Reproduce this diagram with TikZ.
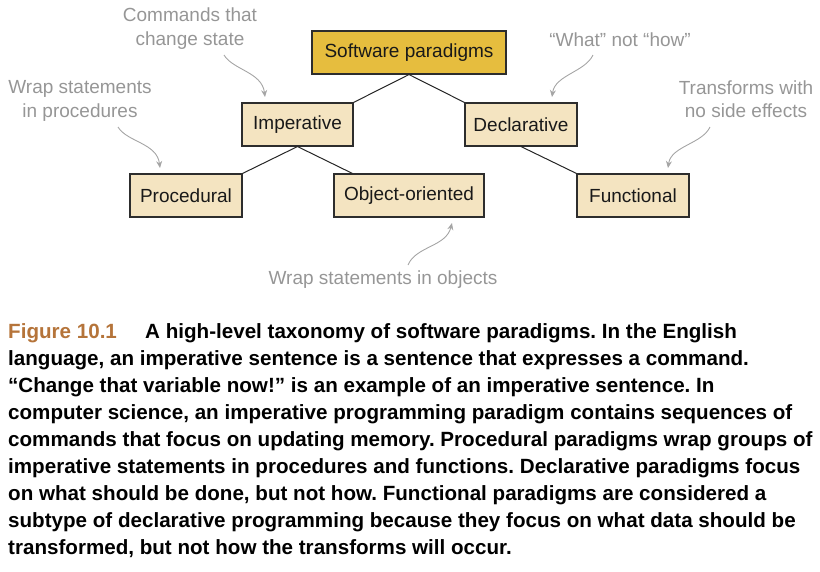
\documentclass[tikz,border=0pt]{standalone}
\usepackage{fontspec}
\setmainfont{Liberation Sans}
\usetikzlibrary{arrows.meta,calc}
\definecolor{boxfill}{RGB}{244,228,193}
\definecolor{goldfill}{RGB}{230,189,62}
\definecolor{boxline}{RGB}{45,45,45}
\definecolor{annotext}{RGB}{150,150,150}
\definecolor{annoline}{RGB}{165,165,165}
\definecolor{figc}{RGB}{181,116,58}
\frenchspacing
\tikzset{
  paradigm/.style={draw=boxline, line width=1.1pt, fill=boxfill, minimum height=43pt,
    inner sep=0pt, font=\fontsize{19}{23}\selectfont, text=black!90},
  anno/.style={anchor=base, inner sep=0pt, font=\fontsize{19}{24}\selectfont, text=annotext},
  annoarrow/.style={draw=annoline, line width=0.9pt, -{Stealth[length=7pt,width=6pt]}},
  link/.style={draw=black!85, line width=1pt},
  capline/.style={anchor=base west, inner sep=0pt, font=\fontsize{20.6}{27}\selectfont\bfseries}
}
\begin{document}
\begin{tikzpicture}[x=1pt,y=-1pt]
\useasboundingbox (0,0) rectangle (820,571);
% boxes
\node[paradigm, fill=goldfill, minimum width=194pt] (sw) at (409,52.5) {Software paradigms};
\node[paradigm, minimum width=111pt] (imp) at (297.5,124.5) {Imperative};
\node[paradigm, minimum width=112pt] (dec) at (521,124.5) {Declarative};
\node[paradigm, minimum width=112pt] (proc) at (186,195.5) {Procedural};
\node[paradigm, minimum width=150pt] (oo) at (409,195.5) {Object-oriented};
\node[paradigm, minimum width=112pt] (fun) at (633,195.5) {Functional};
% links
\draw[link] (sw.south) -- (imp.north east);
\draw[link] (sw.south) -- (dec.north west);
\draw[link] (imp.south) -- (proc.north east);
\draw[link] (imp.south) -- ([xshift=19pt]oo.north west);
\draw[link] (dec.south) -- (fun.north west);
% annotations
\node[anno] (cmd1) at (190,21) {Commands that};
\node[anno] (cmd2) at (190,45) {change state};
\node[anno] (wp1) at (80,93) {Wrap statements};
\node[anno] (wp2) at (80,117) {in procedures};
\node[anno] (wn) at (620,46) {“What” not “how”};
\node[anno] (tr1) at (746,94) {Transforms with};
\node[anno] (tr2) at (746,117) {no side effects};
\node[anno] (wo) at (383,284) {Wrap statements in objects};
% annotation arrows
\coordinate (cmdS) at (224,55);
\coordinate (cmdE) at (265,97);
\draw[annoarrow] (cmdS) .. controls (233,70) and (262,72) .. (cmdE);
\coordinate (wpS) at (118,127);
\coordinate (wpE) at (160,168);
\draw[annoarrow] (wpS) .. controls (127,142) and (157,143) .. (wpE);
\coordinate (wnS) at (593,55);
\coordinate (wnE) at (552,97);
\draw[annoarrow] (wnS) .. controls (585,72) and (555,75) .. (wnE);
\coordinate (trS) at (710,127);
\coordinate (trE) at (668,168);
\draw[annoarrow] (trS) .. controls (702,144) and (671,146) .. (trE);
\coordinate (woS) at (408,265);
\coordinate (woE) at (452,223);
\draw[annoarrow] (woS) .. controls (416,246) and (446,247) .. (woE);
% caption
\node[capline, text=figc] (fig) at (8,338) {Figure 10.1};
\node[capline] (c1) at (145,338) {A high-level taxonomy of software paradigms. In the English};
\node[capline] (c2) at (8,365.1) {language, an imperative sentence is a sentence that expresses a command.};
\node[capline] (c3) at (8,392.2) {“Change that variable now!” is an example of an imperative sentence. In};
\node[capline] (c4) at (8,419.3) {computer science, an imperative programming paradigm contains sequences of};
\node[capline] (c5) at (8,446.4) {commands that focus on updating memory. Procedural paradigms wrap groups of};
\node[capline] (c6) at (8,473.5) {imperative statements in procedures and functions. Declarative paradigms focus};
\node[capline] (c7) at (8,500.6) {on what should be done, but not how. Functional paradigms are considered a};
\node[capline] (c8) at (8,527.7) {subtype of declarative programming because they focus on what data should be};
\node[capline] (c9) at (8,554.8) {transformed, but not how the transforms will occur.};
\end{tikzpicture}
\end{document}
